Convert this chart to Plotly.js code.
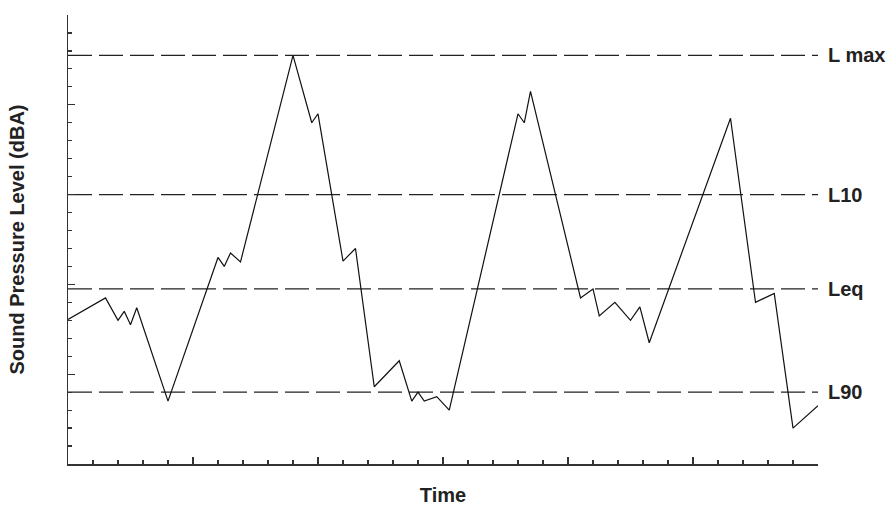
<!DOCTYPE html>
<html>
<head>
<meta charset="utf-8">
<script src="https://cdn.plot.ly/plotly-3.0.1.min.js"></script>
<style>html,body{margin:0;padding:0;background:#fff;}#chart{width:889px;height:518px;}</style>
</head>
<body>
<div id="chart"></div>
<script>
// Time (arbitrary units) and sound pressure level (arbitrary dBA units)
const timeValues = [0,1.5,2,2.25,2.5,2.75,4,6,6.25,6.5,6.9,9,9.75,10,11,11.5,12.25,13.25,13.75,14,14.25,14.75,15.25,18,18.25,18.5,20.5,21,21.25,21.875,22.5,22.875,23.25,26.5,27.5,28.25,29,30];
const splValues  = [8.05,9.25,8.0,8.5,7.75,8.7,3.5,11.5,11.0,11.75,11.25,22.75,19.0,19.5,11.3,12.0,4.3,5.75,3.5,4.0,3.5,3.75,3.0,19.5,19.0,20.75,9.25,9.75,8.25,9.0,8.0,8.75,6.75,19.25,9.0,9.5,2.0,3.25];

const levelNames  = ["L max", "L10", "Leq", "L90"];
const levelValues = [22.75, 15, 9.75, 4];
const timeRange = [0, 30];
const splRange = [0, 25];

const font = "Liberation Sans, Arial, Helvetica, sans-serif";

const traces = levelValues.map((v, i) => ({
  x: timeRange, y: [v, v], mode: "lines", type: "scatter",
  name: levelNames[i], hoverinfo: "skip",
  line: {color: "#222", width: 1.3, dash: "24px,7px"}
}));
traces.push({
  x: timeValues, y: splValues, mode: "lines", type: "scatter",
  name: "SPL", line: {color: "#111", width: 1.2}
});

const annotations = levelValues.map((v, i) => ({
  x: timeRange[1], y: v, xref: "x", yref: "y",
  text: "<b>" + levelNames[i] + "</b>", showarrow: false,
  xanchor: "left", yanchor: "middle", xshift: 8,
  font: {family: font, size: 20, color: "#222"}
}));

const layout = {
  width: 889, height: 518,
  margin: {l: 68, r: 71, t: 15, b: 54},
  paper_bgcolor: "#fff", plot_bgcolor: "#fff",
  showlegend: false,
  xaxis: {
    range: timeRange, showgrid: false, zeroline: false,
    showline: true, linecolor: "#333", linewidth: 1.5,
    ticks: "inside", ticklen: 7, tickwidth: 1.3, tickcolor: "#333",
    tick0: 0, dtick: 5, showticklabels: false,
    minor: {ticks: "inside", ticklen: 4, tickwidth: 1.2, tickcolor: "#333", dtick: 1, showgrid: false},
    title: {text: "<b>Time</b>", font: {family: font, size: 20, color: "#222"}, standoff: 23}
  },
  yaxis: {
    range: splRange, showgrid: false, zeroline: false,
    showline: true, linecolor: "#333", linewidth: 1.5,
    ticks: "inside", ticklen: 7, tickwidth: 1.3, tickcolor: "#333",
    tick0: 0, dtick: 5, showticklabels: false,
    minor: {ticks: "inside", ticklen: 4, tickwidth: 1.2, tickcolor: "#333", dtick: 1, showgrid: false},
    title: {text: "<b>Sound Pressure Level (dBA)</b>", font: {family: font, size: 20, color: "#222"}, standoff: 36}
  },
  annotations: annotations
};

Plotly.newPlot("chart", traces, layout, {displayModeBar: false, staticPlot: true});
</script>
</body>
</html>
